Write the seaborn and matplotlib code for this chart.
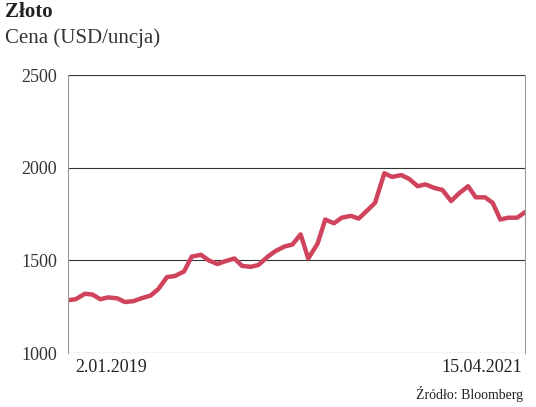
import matplotlib
matplotlib.use("Agg")
import matplotlib.pyplot as plt
import seaborn as sns
import pandas as pd

prices = [1285, 1290, 1320, 1315, 1290, 1300, 1295, 1275, 1280, 1295, 1310, 1345,
          1410, 1415, 1440, 1520, 1530, 1500, 1480, 1495, 1510, 1470, 1465, 1475,
          1520, 1550, 1575, 1585, 1640, 1510, 1590, 1720, 1700, 1730, 1740, 1725,
          1770, 1810, 1970, 1950, 1960, 1940, 1900, 1910, 1890, 1880, 1820, 1860,
          1900, 1840, 1840, 1810, 1720, 1730, 1730, 1760]
dates = pd.date_range("2019-01-01", periods=len(prices), freq="SMS")
df = pd.DataFrame({"date": dates, "price": prices})
yticks = [1000, 1500, 2000, 2500]

sns.set_style("white")
plt.rcParams['font.family'] = ['Liberation Serif', 'DejaVu Serif']
fig = plt.figure(figsize=(5.36, 4.07), dpi=100)
ax = fig.add_axes([68/536, 1-353/407, 457/536, 278/407])
sns.lineplot(data=df, x="date", y="price", ax=ax, color="#d0435d", linewidth=3.2)
ax.set_xlim(dates[0], dates[-1])
ax.set_ylim(1000, 2500)
ax.set_yticks(yticks)
ax.set_yticklabels([str(t) for t in yticks], fontsize=13, color="#333333")
ax.tick_params(axis="y", length=0, pad=8)
ax.set_xticks([])
ax.set_xlabel(""); ax.set_ylabel("")
for y in yticks:
    ax.axhline(y, color="#333333", lw=0.8, zorder=0)
for s in ["top", "bottom"]:
    ax.spines[s].set_visible(False)
for s in ["left", "right"]:
    ax.spines[s].set_color("#999999"); ax.spines[s].set_linewidth(0.8)
fig.text(0.14, 1-367/407, "2.01.2019", fontsize=13, color="#222222", va="center")
fig.text(0.975, 1-367/407, "15.04.2021", fontsize=13, color="#222222", va="center", ha="right")
fig.text(0.01, 1-12/407, "Złoto", fontsize=15, fontweight="bold", color="#222222", va="center")
fig.text(0.01, 1-38/407, "Cena (USD/uncja)", fontsize=15, color="#333333", va="center")
fig.text(0.975, 1-394/407, "Źródło: Bloomberg", fontsize=10, color="#222222", va="center", ha="right")
fig.savefig("out.png", dpi=100)
